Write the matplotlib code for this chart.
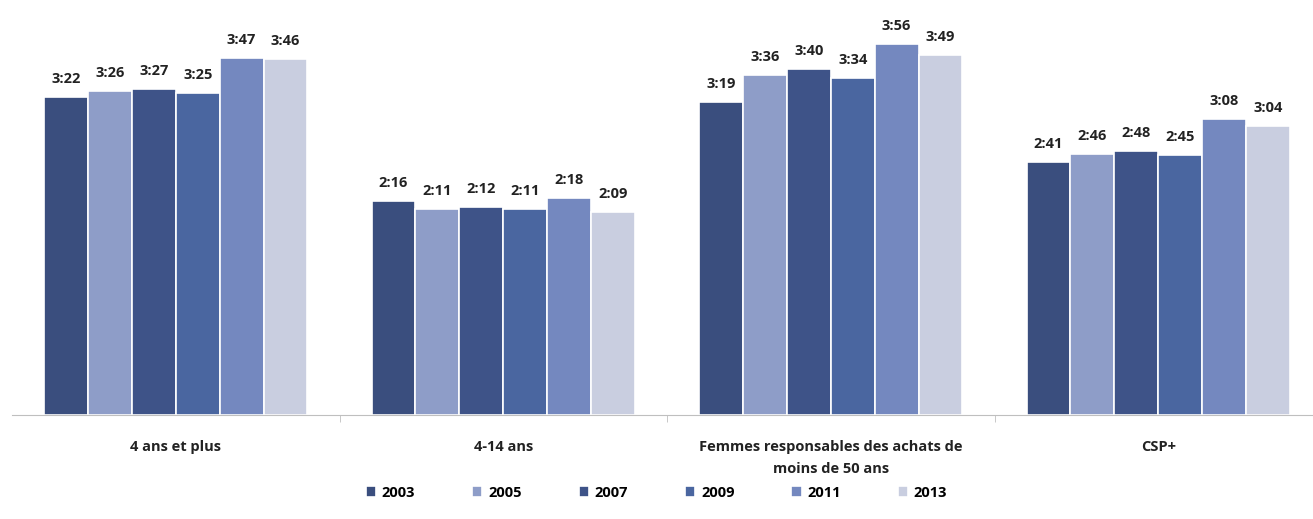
import matplotlib
matplotlib.use("Agg")
import matplotlib.pyplot as plt
import numpy as np

GROUPS = ["4 ans et plus", "4-14 ans",
          "Femmes responsables des achats de\nmoins de 50 ans", "CSP+"]
YEARS = ["2003", "2005", "2007", "2009", "2011", "2013"]
# durée d'écoute en minutes (h:mm)
Y2003 = [202, 136, 199, 161]
Y2005 = [206, 131, 216, 166]
Y2007 = [207, 132, 220, 168]
Y2009 = [205, 131, 214, 165]
Y2011 = [227, 138, 236, 188]
Y2013 = [226, 129, 229, 184]
SERIES = [Y2003, Y2005, Y2007, Y2009, Y2011, Y2013]
COLOR = ["#3a4e7e", "#8e9dc8", "#3e5388", "#4a66a0", "#7488bf", "#c9cee0"]


def hmm(m):
    return f"{m // 60}:{m % 60:02d}"


plt.rcParams["font.family"] = ["Open Sans", "DejaVu Sans"]
fig = plt.figure(figsize=(13.13, 5.19), dpi=100)
ax = fig.add_axes([12 / 1313, 104 / 519, 1310 / 1313, 409 / 519])

x = np.arange(len(GROUPS))
width = 0.134
for i, (yr, vals) in enumerate(zip(YEARS, SERIES)):
    pos = x + (i - 2.5) * width
    bars = ax.bar(pos, vals, width, color=COLOR[i], edgecolor="white",
                  linewidth=1.2, label=yr)
    for b, v in zip(bars, vals):
        ax.text(b.get_x() + b.get_width() / 2, v + 7, hmm(v), ha="center",
                va="bottom", fontsize=10.5, fontweight="bold", color="#222222")

ax.set_xlim(-0.5, 3.5)
ax.set_ylim(0, 260)
ax.set_yticks([])
for s in ["top", "right", "left"]:
    ax.spines[s].set_visible(False)
ax.spines["bottom"].set_color("#bfbfbf")
ax.set_xticks(x)
ax.set_xticklabels(GROUPS, fontsize=10.5, fontweight="bold", color="#222222",
                   linespacing=1.7)
ax.tick_params(axis="x", length=0, pad=18)
ax.set_xticks([0.5, 1.5, 2.5], minor=True)
ax.tick_params(axis="x", which="minor", length=5, color="#bfbfbf")

fig.legend(loc="lower center", bbox_to_anchor=(0.5, 0.012), ncol=6,
           frameon=False, handlelength=0.7, handleheight=0.7,
           columnspacing=3.9, handletextpad=0.4,
           prop={"weight": "bold", "size": 10.5})

fig.savefig("out.png", dpi=100)
